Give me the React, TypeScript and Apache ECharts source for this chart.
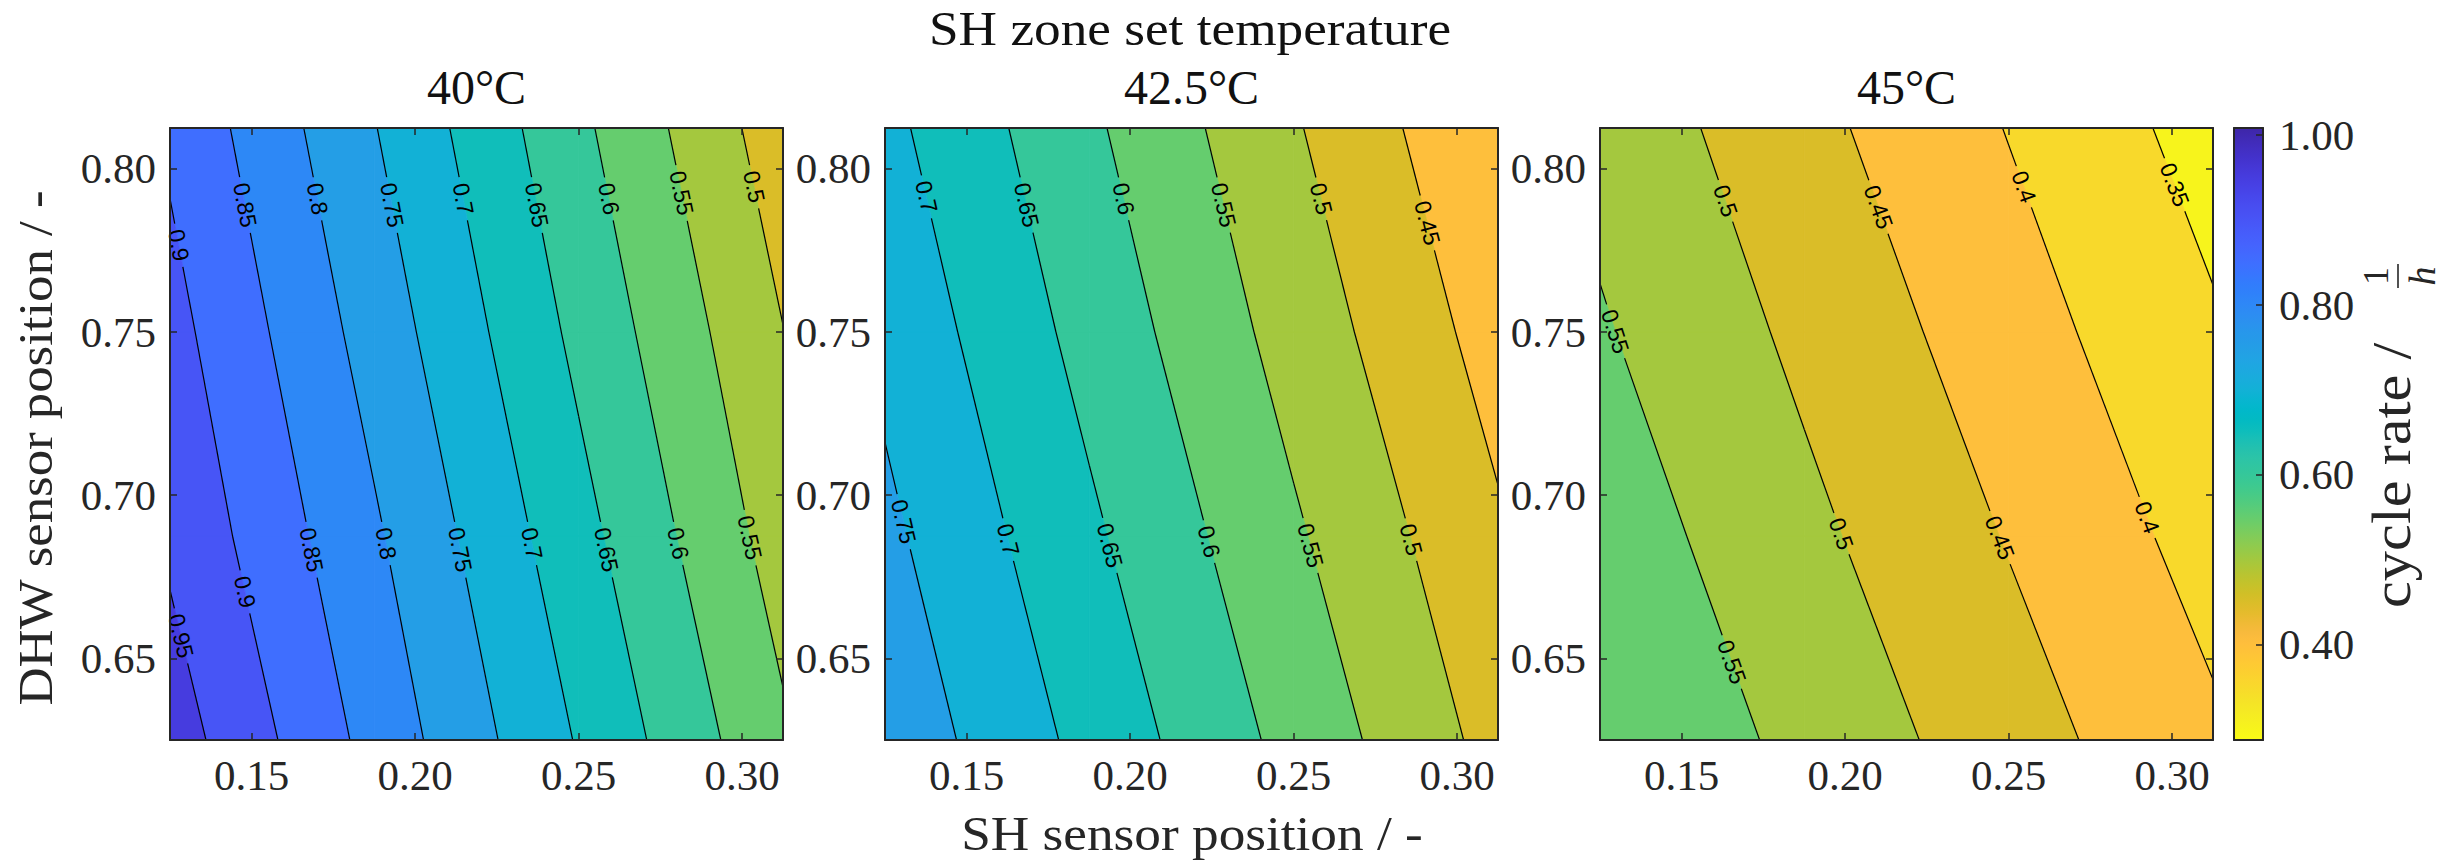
import React, { useEffect, useRef } from "react";
import * as echarts from "echarts";

// ---------------- data ----------------
const SH_POS = [0.125, 0.1875, 0.25, 0.3125]; // x: SH sensor position
const DHW_POS = [0.625, 0.6875, 0.75, 0.8125]; // y: DHW sensor position

// cycle rate (1/h); rows follow DHW_POS, columns follow SH_POS
const RATE_40 = [
  [0.975, 0.833, 0.696, 0.558],
  [0.941, 0.807, 0.667, 0.527],
  [0.917, 0.779, 0.638, 0.501],
  [0.891, 0.752, 0.611, 0.472],
];
const RATE_42_5 = [
  [0.785, 0.685, 0.584, 0.483],
  [0.761, 0.659, 0.557, 0.457],
  [0.737, 0.633, 0.53, 0.429],
  [0.713, 0.609, 0.505, 0.402],
];
const RATE_45 = [
  [0.6, 0.536, 0.472, 0.408],
  [0.578, 0.512, 0.447, 0.381],
  [0.555, 0.489, 0.422, 0.356],
  [0.534, 0.465, 0.398, 0.33],
];

const PANEL_TITLES = ["40°C", "42.5°C", "45°C"];
const SUPER_TITLE = "SH zone set temperature";
const X_NAME = "SH sensor position / -";
const Y_NAME = "DHW sensor position / -";
const CB_NAME = "cycle rate /";

const CONTOUR_LEVELS = [0.3, 0.35, 0.4, 0.45, 0.5, 0.55, 0.6, 0.65, 0.7, 0.75, 0.8, 0.85, 0.9, 0.95, 1.0];

// contour label placement: level and DHW position of the label
const LABEL_LEVELS_40 = [0.9, 0.85, 0.8, 0.75, 0.7, 0.65, 0.6, 0.55, 0.5, 0.95, 0.9, 0.85, 0.8, 0.75, 0.7, 0.65, 0.6, 0.55];
const LABEL_DHW_40 = [0.7766, 0.7889, 0.7908, 0.7889, 0.7908, 0.7889, 0.7908, 0.7926, 0.7945, 0.6569, 0.6704, 0.6833, 0.6852, 0.6833, 0.6852, 0.6833, 0.6852, 0.687];
const LABEL_LEVELS_42_5 = [0.7, 0.65, 0.6, 0.55, 0.5, 0.45, 0.75, 0.7, 0.65, 0.6, 0.55, 0.5];
const LABEL_DHW_42_5 = [0.7914, 0.7889, 0.7908, 0.7889, 0.7908, 0.7834, 0.6919, 0.6864, 0.6846, 0.6858, 0.6846, 0.6864];
const LABEL_LEVELS_45 = [0.5, 0.45, 0.4, 0.35, 0.55, 0.5, 0.45, 0.4, 0.55];
const LABEL_DHW_45 = [0.7902, 0.7883, 0.7945, 0.7951, 0.7502, 0.6882, 0.687, 0.6932, 0.6489];

const X_TICKS = [0.15, 0.2, 0.25, 0.3];
const Y_TICKS = [0.65, 0.7, 0.75, 0.8];
const CB_TICKS = [0.4, 0.6, 0.8, 1.0];
const CB_MIN = 0.2876;
const CB_MAX = 1.0085;

// parula colormap (64 entries)
const PARULA = [
  [0.2422, 0.1504, 0.6603], [0.2504, 0.165, 0.7076], [0.2578, 0.1818, 0.7511], [0.2647, 0.1978, 0.7952],
  [0.2706, 0.2147, 0.8364], [0.2751, 0.2342, 0.871], [0.2783, 0.2559, 0.8991], [0.2803, 0.2782, 0.9221],
  [0.2813, 0.3006, 0.9414], [0.281, 0.3228, 0.9579], [0.2795, 0.3447, 0.9717], [0.276, 0.3667, 0.9829],
  [0.2699, 0.3892, 0.9906], [0.2602, 0.4123, 0.9952], [0.244, 0.4358, 0.9988], [0.2206, 0.4603, 0.9973],
  [0.1963, 0.4847, 0.9892], [0.1834, 0.5074, 0.9798], [0.1786, 0.5289, 0.9682], [0.1764, 0.5499, 0.952],
  [0.1687, 0.5703, 0.9359], [0.154, 0.5902, 0.9218], [0.146, 0.6091, 0.9079], [0.138, 0.6276, 0.8973],
  [0.1248, 0.6459, 0.8883], [0.1113, 0.6635, 0.8763], [0.0952, 0.6798, 0.8598], [0.0689, 0.6948, 0.8394],
  [0.0297, 0.7082, 0.8163], [0.0036, 0.7203, 0.7917], [0.0067, 0.7312, 0.766], [0.0433, 0.7411, 0.7394],
  [0.0964, 0.75, 0.712], [0.1408, 0.7584, 0.6842], [0.1717, 0.767, 0.6554], [0.1938, 0.7758, 0.6251],
  [0.2161, 0.7843, 0.5923], [0.247, 0.7918, 0.5567], [0.2906, 0.7973, 0.5188], [0.3406, 0.8008, 0.4789],
  [0.3909, 0.8029, 0.4354], [0.4456, 0.8024, 0.3909], [0.5044, 0.7993, 0.348], [0.5616, 0.7942, 0.3045],
  [0.6174, 0.7876, 0.2612], [0.672, 0.7793, 0.2227], [0.7242, 0.7698, 0.191], [0.7738, 0.7598, 0.1646],
  [0.8203, 0.7498, 0.1535], [0.8634, 0.7406, 0.1596], [0.9035, 0.733, 0.1774], [0.9393, 0.7288, 0.21],
  [0.9728, 0.7298, 0.2394], [0.9956, 0.7434, 0.2371], [0.997, 0.7659, 0.2199], [0.9952, 0.7893, 0.2028],
  [0.9892, 0.8136, 0.1885], [0.9786, 0.8386, 0.1766], [0.9676, 0.8639, 0.1643], [0.961, 0.889, 0.1537],
  [0.9597, 0.9135, 0.1423], [0.9628, 0.9373, 0.1265], [0.9691, 0.9606, 0.1064], [0.9769, 0.9839, 0.0805],
];

// ---------------- helpers ----------------
const SERIF = "'Liberation Serif', 'Times New Roman', serif";
const SANS = "'Liberation Sans', Arial, sans-serif";
const AXIS_COLOR = "#262626";
const LABEL_FONT = 23;

function rgb(c: number[]) {
  return `rgb(${Math.round(c[0] * 255)},${Math.round(c[1] * 255)},${Math.round(c[2] * 255)})`;
}

function cmap(v: number) {
  let t = (v - CB_MIN) / (CB_MAX - CB_MIN);
  t = Math.max(0, Math.min(1, t));
  const pos = (1 - t) * 63;
  const i = Math.min(62, Math.floor(pos));
  const f = pos - i;
  return rgb(PARULA[i].map((a, k) => a + f * (PARULA[i + 1][k] - a)));
}

type P3 = [number, number, number];

function corners(grid: number[][], i: number, j: number): P3[] {
  return [
    [SH_POS[i], DHW_POS[j], grid[j][i]],
    [SH_POS[i + 1], DHW_POS[j], grid[j][i + 1]],
    [SH_POS[i + 1], DHW_POS[j + 1], grid[j + 1][i + 1]],
    [SH_POS[i], DHW_POS[j + 1], grid[j + 1][i]],
  ];
}

function clipPoly(poly: P3[], level: number, above: boolean): P3[] {
  const out: P3[] = [];
  const n = poly.length;
  for (let k = 0; k < n; k++) {
    const a = poly[k];
    const b = poly[(k + 1) % n];
    const ina = above ? a[2] >= level : a[2] <= level;
    const inb = above ? b[2] >= level : b[2] <= level;
    if (ina) out.push(a);
    if (ina !== inb) {
      const t = (level - a[2]) / (b[2] - a[2]);
      out.push([a[0] + t * (b[0] - a[0]), a[1] + t * (b[1] - a[1]), level]);
    }
  }
  return out;
}

function levelSegments(grid: number[][], level: number): [P3, P3][] {
  const segs: [P3, P3][] = [];
  for (let j = 0; j < DHW_POS.length - 1; j++) {
    for (let i = 0; i < SH_POS.length - 1; i++) {
      const q = corners(grid, i, j);
      const pts: P3[] = [];
      for (let e = 0; e < 4; e++) {
        const a = q[e];
        const b = q[(e + 1) % 4];
        if ((a[2] - level) * (b[2] - level) < 0) {
          const t = (level - a[2]) / (b[2] - a[2]);
          pts.push([a[0] + t * (b[0] - a[0]), a[1] + t * (b[1] - a[1]), level]);
        }
      }
      if (pts.length === 2) segs.push([pts[0], pts[1]]);
      else if (pts.length === 4) {
        segs.push([pts[0], pts[1]]);
        segs.push([pts[2], pts[3]]);
      }
    }
  }
  return segs;
}

function labelAnchor(grid: number[][], level: number, y: number) {
  for (const [a, b] of levelSegments(grid, level)) {
    const lo = Math.min(a[1], b[1]);
    const hi = Math.max(a[1], b[1]);
    if (hi > lo && y >= lo && y <= hi) {
      const t = (y - a[1]) / (b[1] - a[1]);
      return { x: a[0] + t * (b[0] - a[0]), y, a, b };
    }
  }
  return null;
}

function labelWidth(text: string) {
  let w = 0;
  for (const ch of text) w += ch === "." ? 0.278 : 0.556;
  return w * LABEL_FONT;
}

function cutCircle(seg: number[][], c: number[], r: number): number[][][] {
  const [p0, p1] = seg;
  const dx = p1[0] - p0[0];
  const dy = p1[1] - p0[1];
  const fx = p0[0] - c[0];
  const fy = p0[1] - c[1];
  const A = dx * dx + dy * dy;
  const B = 2 * (fx * dx + fy * dy);
  const C = fx * fx + fy * fy - r * r;
  const disc = B * B - 4 * A * C;
  if (A === 0 || disc <= 0) return [seg];
  const s = Math.sqrt(disc);
  const t1 = (-B - s) / (2 * A);
  const t2 = (-B + s) / (2 * A);
  if (t2 <= 0 || t1 >= 1) return [seg];
  const out: number[][][] = [];
  if (t1 > 0) out.push([p0, [p0[0] + t1 * dx, p0[1] + t1 * dy]]);
  if (t2 < 1) out.push([[p0[0] + t2 * dx, p0[1] + t2 * dy], p1]);
  return out;
}

const PANELS = [
  { title: PANEL_TITLES[0], grid: RATE_40, labelLevels: LABEL_LEVELS_40, labelY: LABEL_DHW_40 },
  { title: PANEL_TITLES[1], grid: RATE_42_5, labelLevels: LABEL_LEVELS_42_5, labelY: LABEL_DHW_42_5 },
  { title: PANEL_TITLES[2], grid: RATE_45, labelLevels: LABEL_LEVELS_45, labelY: LABEL_DHW_45 },
];

// layout
const GRID_LEFTS = [170, 885, 1600];
const GRID_TOP = 128;
const GRID_W = 613;
const GRID_H = 612;
const CB_LEFT = 2234;
const CB_W = 29;

function buildOption() {
  const grids: any[] = [];
  const xAxes: any[] = [];
  const yAxes: any[] = [];
  const series: any[] = [];
  const graphic: any[] = [];

  const lineStyle = { color: AXIS_COLOR, width: 2 };
  const tickStyle = { color: AXIS_COLOR, width: 1.5 };
  const labelStyle = { fontFamily: SERIF, fontSize: 43, color: AXIS_COLOR };

  PANELS.forEach((panel, p) => {
    grids.push({ left: GRID_LEFTS[p], top: GRID_TOP, width: GRID_W, height: GRID_H, containLabel: false });
    for (const pos of ["bottom", "top"]) {
      xAxes.push({
        type: "value", gridIndex: p, position: pos, min: SH_POS[0], max: SH_POS[SH_POS.length - 1], z: 10,
        axisLine: { show: true, onZero: false, lineStyle },
        axisTick: { show: true, inside: true, length: 7, customValues: X_TICKS, lineStyle: tickStyle },
        axisLabel: {
          show: pos === "bottom", customValues: X_TICKS, margin: 14, ...labelStyle,
          formatter: (v: number) => v.toFixed(2),
        },
        splitLine: { show: false },
      });
    }
    for (const pos of ["left", "right"]) {
      yAxes.push({
        type: "value", gridIndex: p, position: pos, min: DHW_POS[0], max: DHW_POS[DHW_POS.length - 1], z: 10,
        axisLine: { show: true, onZero: false, lineStyle },
        axisTick: { show: true, inside: true, length: 7, customValues: Y_TICKS, lineStyle: tickStyle },
        axisLabel: {
          show: pos === "left", customValues: Y_TICKS, margin: 14, ...labelStyle,
          formatter: (v: number) => v.toFixed(2),
        },
        splitLine: { show: false },
      });
    }

    const grid = panel.grid;
    const nodes: number[][] = [];
    DHW_POS.forEach((y, j) => SH_POS.forEach((x, i) => nodes.push([x, y, grid[j][i]])));
    const nx = SH_POS.length;

    // filled contour bands
    series.push({
      type: "custom", xAxisIndex: 2 * p, yAxisIndex: 2 * p, silent: true, z: 2, clip: true,
      data: nodes,
      renderItem: (params: any, api: any) => {
        const idx = params.dataIndex;
        const i = idx % nx;
        const j = Math.floor(idx / nx);
        if (i >= nx - 1 || j >= DHW_POS.length - 1) return null;
        const q = corners(grid, i, j);
        const edges = [-Infinity, ...CONTOUR_LEVELS, Infinity];
        const children: any[] = [];
        for (let k = 0; k < edges.length - 1; k++) {
          const poly = clipPoly(clipPoly(q, edges[k], true), edges[k + 1], false);
          if (poly.length < 3) continue;
          const pts = poly.map((pt) => api.coord([pt[0], pt[1]]));
          const col = cmap(k === 0 ? CONTOUR_LEVELS[0] - 0.05 : edges[k]);
          children.push({ type: "polygon", shape: { points: pts }, style: { fill: col, stroke: col, lineWidth: 0.8 } });
        }
        return { type: "group", children };
      },
    });

    // contour lines with gaps at labels
    series.push({
      type: "custom", xAxisIndex: 2 * p, yAxisIndex: 2 * p, silent: true, z: 3, clip: true,
      data: CONTOUR_LEVELS.map((l) => [SH_POS[0], DHW_POS[0], l]),
      renderItem: (params: any, api: any) => {
        const level = CONTOUR_LEVELS[params.dataIndex];
        const segs = levelSegments(grid, level);
        if (!segs.length) return null;
        const gaps: { c: number[]; r: number }[] = [];
        panel.labelLevels.forEach((lv, n) => {
          if (lv !== level) return;
          const an = labelAnchor(grid, lv, panel.labelY[n]);
          if (!an) return;
          gaps.push({ c: api.coord([an.x, an.y]), r: labelWidth(String(lv)) / 2 + 6 });
        });
        const children: any[] = [];
        for (const [a, b] of segs) {
          let pieces: number[][][] = [[api.coord([a[0], a[1]]), api.coord([b[0], b[1]])]];
          for (const g of gaps) pieces = pieces.flatMap((pc) => cutCircle(pc, g.c, g.r));
          for (const [p0, p1] of pieces) {
            children.push({
              type: "line", shape: { x1: p0[0], y1: p0[1], x2: p1[0], y2: p1[1] },
              style: { stroke: "#000", lineWidth: 1.2 },
            });
          }
        }
        return { type: "group", children };
      },
    });

    // contour labels
    series.push({
      type: "custom", xAxisIndex: 2 * p, yAxisIndex: 2 * p, silent: true, z: 4, clip: false,
      data: panel.labelLevels.map((l, n) => [SH_POS[0], panel.labelY[n], l]),
      renderItem: (params: any, api: any) => {
        const lv = panel.labelLevels[params.dataIndex];
        const an = labelAnchor(grid, lv, panel.labelY[params.dataIndex]);
        if (!an) return null;
        const c = api.coord([an.x, an.y]);
        const pa = api.coord([an.a[0], an.a[1]]);
        const pb = api.coord([an.b[0], an.b[1]]);
        let dx = pb[0] - pa[0];
        let dy = pb[1] - pa[1];
        if (dx < 0 || (dx === 0 && dy < 0)) {
          dx = -dx;
          dy = -dy;
        }
        const ang = Math.atan2(dy, dx);
        return {
          type: "text", x: c[0], y: c[1], rotation: -ang,
          style: { text: String(lv), fontFamily: SANS, fontSize: LABEL_FONT, fill: "#000", align: "center", verticalAlign: "middle" },
        };
      },
    });

    graphic.push({
      type: "text", x: GRID_LEFTS[p] + GRID_W / 2, y: 87,
      style: { text: panel.title, fontFamily: SERIF, fontSize: 48, fill: "#111", align: "center", verticalAlign: "middle" },
    });
  });

  // colorbar
  grids.push({ left: CB_LEFT, top: GRID_TOP, width: CB_W, height: GRID_H, containLabel: false });
  for (const pos of ["bottom", "top"]) {
    xAxes.push({
      type: "value", gridIndex: 3, position: pos, min: 0, max: 1, z: 10,
      axisLine: { show: true, onZero: false, lineStyle },
      axisTick: { show: false }, axisLabel: { show: false }, splitLine: { show: false },
    });
  }
  for (const pos of ["right", "left"]) {
    yAxes.push({
      type: "value", gridIndex: 3, position: pos, min: CB_MIN, max: CB_MAX, z: 10,
      axisLine: { show: true, onZero: false, lineStyle },
      axisTick: { show: pos === "right", inside: true, length: 7, customValues: CB_TICKS, lineStyle: tickStyle },
      axisLabel: {
        show: pos === "right", customValues: CB_TICKS, margin: 16, ...labelStyle,
        formatter: (v: number) => v.toFixed(2),
      },
      splitLine: { show: false },
    });
  }
  const stops = PARULA.map((c, i) => ({ offset: i / (PARULA.length - 1), color: rgb(c) }));
  series.push({
    type: "custom", xAxisIndex: 6, yAxisIndex: 6, silent: true, z: 2,
    data: [[0, CB_MIN, 1, CB_MAX]],
    renderItem: (params: any, api: any) => {
      const p0 = api.coord([api.value(0), api.value(1)]);
      const p1 = api.coord([api.value(2), api.value(3)]);
      return {
        type: "rect",
        shape: { x: p0[0], y: p1[1], width: p1[0] - p0[0], height: p0[1] - p1[1] },
        style: { fill: new echarts.graphic.LinearGradient(0, 0, 0, 1, stops) },
      };
    },
  });

  // titles and names
  graphic.push({
    type: "text", x: 1190, y: 29, scaleX: 1.11,
    style: { text: SUPER_TITLE, fontFamily: SERIF, fontSize: 48, fill: "#111", align: "center", verticalAlign: "middle" },
  });
  graphic.push({
    type: "text", x: 1192, y: 834, scaleX: 1.11,
    style: { text: X_NAME, fontFamily: SERIF, fontSize: 48, fill: AXIS_COLOR, align: "center", verticalAlign: "middle" },
  });
  graphic.push({
    type: "text", x: 36, y: 448, rotation: Math.PI / 2, scaleX: 1.1,
    style: { text: Y_NAME, fontFamily: SERIF, fontSize: 48, fill: AXIS_COLOR, align: "center", verticalAlign: "middle" },
  });
  graphic.push({
    type: "group", x: 2410, y: 608, rotation: Math.PI / 2,
    children: [
      {
        type: "text", x: 0, y: -18.5, scaleX: 1.1,
        style: { text: CB_NAME, fontFamily: SERIF, fontSize: 55, fill: AXIS_COLOR, align: "left", verticalAlign: "middle" },
      },
      {
        type: "text", x: 332, y: -34.5,
        style: { text: "1", fontFamily: SERIF, fontSize: 36, fill: AXIS_COLOR, align: "center", verticalAlign: "middle" },
      },
      { type: "line", shape: { x1: 320, y1: -12, x2: 344, y2: -12 }, style: { stroke: AXIS_COLOR, lineWidth: 1.6 } },
      {
        type: "text", x: 332, y: 12,
        style: { text: "h", fontFamily: SERIF, fontStyle: "italic", fontSize: 38, fill: AXIS_COLOR, align: "center", verticalAlign: "middle" },
      },
    ],
  });

  return {
    animation: false,
    backgroundColor: "#ffffff",
    grid: grids,
    xAxis: xAxes,
    yAxis: yAxes,
    series,
    graphic,
  };
}

export default function App() {
  const ref = useRef<HTMLDivElement>(null);
  useEffect(() => {
    if (!ref.current) return;
    const chart = echarts.init(ref.current, undefined, { renderer: "svg" });
    chart.setOption(buildOption() as any);
    return () => chart.dispose();
  }, []);
  return <div ref={ref} style={{ position: "fixed", left: 0, top: 0, width: 2458, height: 861, background: "#fff" }} />;
}
